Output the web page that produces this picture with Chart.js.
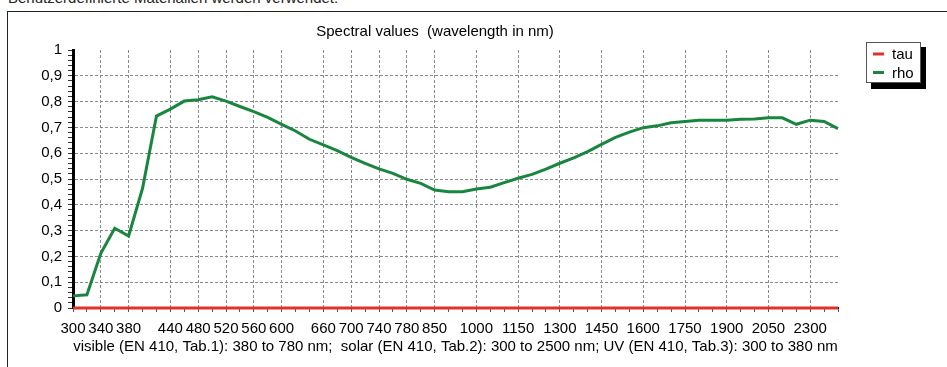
<!DOCTYPE html>
<html>
<head>
<meta charset="utf-8">
<script src="https://cdn.jsdelivr.net/npm/chart.js@4"></script>
<style>
body { margin: 0; background: #fff; font-family: "Liberation Sans", Arial, sans-serif; }
#note { position: absolute; left: 8px; top: -11px; font-size: 15px; color: #222; white-space: nowrap; }
#frame { position: absolute; left: 7px; top: 11px; width: 1000px; height: 400px; border-left: 1px solid #222; border-top: 1px solid #222; }
#spectral { position: absolute; left: 0; top: 0; }
</style>
</head>
<body>
<div id="note">Benutzerdefinierte Materialien werden verwendet.</div>
<div id="frame"></div>
<canvas id="spectral" width="947" height="367"></canvas>
<script>
var wavelengths = [300, 320, 340, 360, 380, 400, 420, 440, 460, 480, 500, 520, 540, 560, 580, 600, 620, 640, 660, 680, 700, 720, 740, 760, 780,
    800, 850, 900, 950, 1000, 1050, 1100, 1150, 1200, 1250, 1300, 1350, 1400, 1450, 1500, 1550, 1600, 1650, 1700, 1750, 1800, 1850, 1900, 1950, 2000, 2050,
    2100, 2200, 2300, 2400, 2500];
var shownLabels = [300, 340, 380, 440, 480, 520, 560, 600, 660, 700, 740, 780, 850, 1000, 1150, 1300, 1450, 1600, 1750, 1900, 2050, 2300];
var tau = [0, 0, 0, 0, 0, 0, 0, 0, 0, 0, 0, 0, 0, 0, 0, 0, 0, 0, 0, 0, 0, 0, 0, 0, 0, 0, 0, 0,
    0, 0, 0, 0, 0, 0, 0, 0, 0, 0, 0, 0, 0, 0, 0, 0, 0, 0, 0, 0, 0, 0, 0, 0, 0, 0, 0, 0];
var rho = [0.047, 0.051, 0.212, 0.309, 0.279, 0.464, 0.744, 0.771, 0.802, 0.807,
    0.819, 0.802, 0.781, 0.761, 0.739, 0.712, 0.686, 0.654, 0.632, 0.610,
    0.584, 0.561, 0.539, 0.522, 0.499, 0.483, 0.457, 0.451, 0.451, 0.461,
    0.468, 0.486, 0.503, 0.518, 0.538, 0.561, 0.582, 0.606, 0.634, 0.661,
    0.682, 0.699, 0.706, 0.718, 0.723, 0.728, 0.728, 0.728, 0.732, 0.733,
    0.737, 0.737, 0.712, 0.728, 0.723, 0.695];

var fontName = "'Liberation Sans', Arial, sans-serif";

// legend box with black shadow, top right
var boxLegend = {
    id: 'boxLegend',
    afterDraw: function(chart) {
        var ctx = chart.ctx;
        ctx.save();
        ctx.fillStyle = '#000';
        ctx.fillRect(871, 47, 55, 42);
        ctx.fillStyle = '#fff';
        ctx.fillRect(866, 42, 54, 41);
        ctx.strokeStyle = '#555';
        ctx.lineWidth = 1;
        ctx.strokeRect(866.5, 42.5, 54, 40);
        ctx.font = '15px ' + fontName;
        ctx.textBaseline = 'middle';
        chart.data.datasets.forEach(function(ds, i) {
            var y = 54 + i * 18.5;
            ctx.strokeStyle = ds.borderColor;
            ctx.lineWidth = 3;
            ctx.beginPath();
            ctx.moveTo(873, y);
            ctx.lineTo(884, y);
            ctx.stroke();
            ctx.fillStyle = '#000';
            ctx.fillText(ds.label, 892, y + 1);
        });
        ctx.restore();
    }
};

function isMajor(v) {
    return Math.abs(v * 10 - Math.round(v * 10)) < 1e-6;
}

var chart = new Chart(document.getElementById('spectral'), {
    type: 'line',
    data: {
        labels: wavelengths,
        datasets: [
            { label: 'tau', data: tau, borderColor: 'rgb(228, 48, 44)', borderWidth: 3, pointRadius: 0, tension: 0, clip: 5 },
            { label: 'rho', data: rho, borderColor: 'rgb(24, 134, 62)', borderWidth: 3, pointRadius: 0, tension: 0 }
        ]
    },
    plugins: [boxLegend],
    options: {
        responsive: false,
        devicePixelRatio: 1,
        animation: false,
        layout: { padding: { left: 32, right: 109, top: 0, bottom: 0 } },
        plugins: {
            legend: { display: false },
            tooltip: { enabled: false },
            title: {
                display: true,
                text: 'Spectral values  (wavelength in nm)',
                color: '#000',
                font: { family: fontName, size: 15, weight: 'normal' },
                padding: { top: 23, bottom: 9 }
            }
        },
        scales: {
            x: {
                type: 'category',
                offset: false,
                afterFit: function(scale) { scale.height = 59; },
                grid: {
                    color: function(c) {
                        return c.index > 0 && shownLabels.indexOf(wavelengths[c.index]) >= 0 ? '#8a8a8a' : 'rgba(0,0,0,0)';
                    },
                    tickColor: '#555',
                    tickLength: 4,
                    lineWidth: 1
                },
                border: { display: true, color: '#000', width: 2, dash: [3, 2] },
                ticks: {
                    autoSkip: false,
                    maxRotation: 0,
                    color: '#000',
                    padding: 8,
                    font: { family: fontName, size: 15 },
                    callback: function(value, index) {
                        var w = wavelengths[index];
                        return shownLabels.indexOf(w) >= 0 ? String(w) : '';
                    }
                },
                title: {
                    display: true,
                    text: 'visible (EN 410, Tab.1): 380 to 780 nm;  solar (EN 410, Tab.2): 300 to 2500 nm; UV (EN 410, Tab.3): 300 to 380 nm',
                    color: '#000',
                    font: { family: fontName, size: 15 },
                    padding: { top: 0, bottom: 11 }
                }
            },
            y: {
                min: 0,
                max: 1,
                afterFit: function(scale) { scale.width = 41; },
                grid: {
                    color: function(c) {
                        var v = c.tick.value;
                        if (!isMajor(v) || v < 0.05 || v > 0.95) return 'rgba(0,0,0,0)';
                        return '#8a8a8a';
                    },
                    tickColor: '#333',
                    tickLength: 5,
                    lineWidth: 1
                },
                border: { display: true, color: '#000', width: 3, dash: [3, 2] },
                ticks: {
                    stepSize: 0.02,
                    maxTicksLimit: 100,
                    autoSkip: false,
                    color: '#000',
                    padding: 6,
                    font: { family: fontName, size: 15 },
                    callback: function(v) {
                        if (!isMajor(v)) return '';
                        var r = Math.round(v * 10);
                        if (r == 0) return '0';
                        if (r == 10) return '1';
                        return '0,' + r;
                    }
                }
            }
        }
    }
});
</script>
</body>
</html>
